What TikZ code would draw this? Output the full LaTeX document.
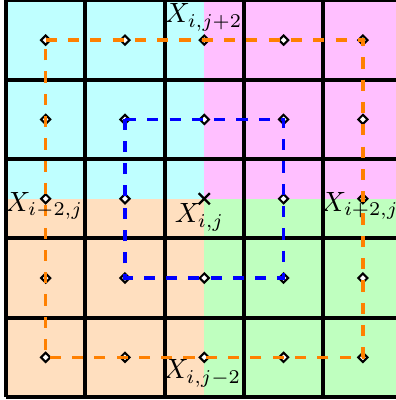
\documentclass[tikz,border=0pt]{standalone}
\usetikzlibrary{shapes.geometric,shapes.misc}
\definecolor{cyanq}{RGB}{191,255,255}
\definecolor{magq}{RGB}{255,191,255}
\definecolor{peachq}{RGB}{255,223,191}
\definecolor{greenq}{RGB}{191,255,191}
\definecolor{orangeq}{RGB}{255,128,0}
\definecolor{blueq}{RGB}{0,0,255}
\begin{document}
\begin{tikzpicture}[
  gridline/.style={line width=1.4pt, draw=black},
  ptmark/.style={diamond, draw=black, fill=white, line width=0.75pt, inner sep=0pt,
                 minimum width=3.6pt, minimum height=3.6pt},
  xmark/.style={cross out, draw=black, line width=0.8pt, inner sep=0pt, minimum size=3.2pt},
  outerpath/.style={draw=orangeq, line width=1.2pt, dash pattern=on 4pt off 4pt},
  innerpath/.style={draw=blueq, line width=1.2pt, dash pattern=on 4pt off 4pt},
  lbl/.style={inner sep=0pt, anchor=base}
]
\useasboundingbox (-0.0757,-0.0378) rectangle (4.905,5.006);
% quadrants
\fill[cyanq] (0,2.5) rectangle (2.5,5);
\fill[magq] (2.5,2.5) rectangle (5,5);
\fill[peachq] (0,0) rectangle (2.5,2.5);
\fill[greenq] (2.5,0) rectangle (5,2.5);
% grid
\draw[gridline] (0,0) grid (5,5);
% points
\foreach \c in {1,...,5}{
  \foreach \r in {1,...,5}{
    \ifnum\c\r=33
      \node[xmark] (p\c\r) at (\c-0.5,\r-0.5) {};
    \else
      \node[ptmark] (p\c\r) at (\c-0.5,\r-0.5) {};
    \fi
  }
}
% dashed loops
\draw[outerpath] (p15.center) -- (p55.center) -- (p51.center) -- (p11.center) -- cycle;
\draw[innerpath] (p24.center) -- (p44.center) -- (p42.center) -- (p22.center) -- cycle;
% labels
\node[lbl] (ltop) at (2.49,4.716) {$X_{i,j+2}$};
\node[lbl] (lctr) at (2.44,2.194) {$X_{i,j}$};
\node[lbl] (lbot) at (2.475,0.227) {$X_{i,j-2}$};
\node[lbl] (lleft) at (0.48,2.34) {$X_{i-2,j}$};
\node[lbl] (lright) at (4.46,2.34) {$X_{i+2,j}$};
\end{tikzpicture}
\end{document}
